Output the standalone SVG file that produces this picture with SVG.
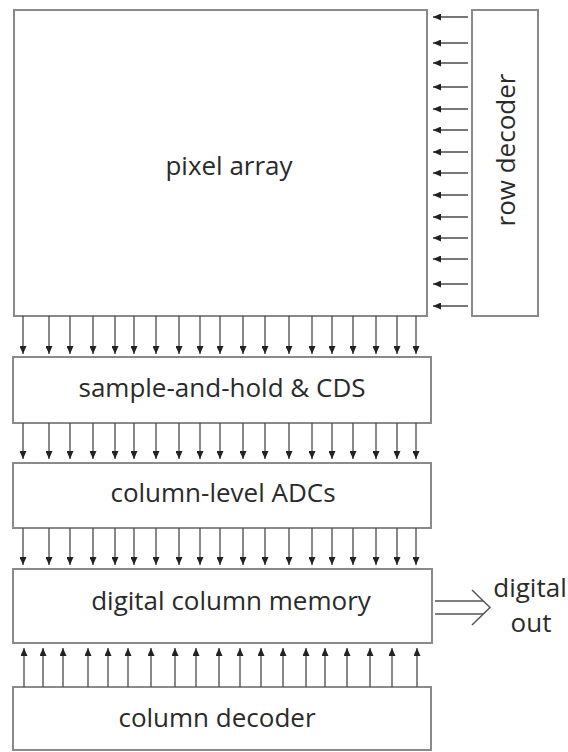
<svg xmlns="http://www.w3.org/2000/svg" width="568" height="752" viewBox="0 0 568 752">
  <style>
    .box { fill: #ffffff; stroke: #8a8a8a; stroke-width: 2; }
    .lbl { font-family: "Open Sans", "Noto Sans", "DejaVu Sans", sans-serif; font-size: 26px; fill: #2a2a2a; text-anchor: middle; }
    .wire { stroke: #4a4a4a; stroke-width: 1.3; fill: none; marker-end: url(#head); }
    .bus { stroke: #555555; stroke-width: 1.5; fill: none; }
  </style>
  <defs>
    <marker id="head" markerUnits="userSpaceOnUse" markerWidth="8" markerHeight="7" refX="8" refY="3.5" orient="auto">
      <path d="M0,0 L8,3.5 L0,7 z" fill="#222222"/>
    </marker>
  </defs>
  <rect width="568" height="752" fill="#ffffff"/>

  <g id="pixel-array">
    <rect class="box" x="14" y="10" width="413" height="306"/>
    <text class="lbl" x="229" y="175">pixel array</text>
  </g>

  <g id="row-decoder">
    <rect class="box" x="472" y="10" width="66" height="306"/>
    <text class="lbl" transform="translate(515,150) rotate(-90)">row decoder</text>
  </g>

  <g id="sample-hold-cds">
    <rect class="box" x="13" y="357" width="418" height="66"/>
    <text class="lbl" x="222" y="397">sample-and-hold &amp; CDS</text>
  </g>

  <g id="column-adcs">
    <rect class="box" x="13" y="463" width="418" height="65"/>
    <text class="lbl" x="223" y="502">column-level ADCs</text>
  </g>

  <g id="column-memory">
    <rect class="box" x="13" y="569" width="419" height="74"/>
    <text class="lbl" x="231" y="610">digital column memory</text>
  </g>

  <g id="column-decoder">
    <rect class="box" x="13" y="687" width="418" height="63"/>
    <text class="lbl" x="217" y="727">column decoder</text>
  </g>

  <g id="digital-out">
    <text class="lbl" x="530" y="597">digital</text>
    <text class="lbl" x="531" y="632">out</text>
  </g>

  <g id="connectors">
    <!-- row select lines: row decoder to pixel array -->
    <line class="wire" x1="468" y1="17" x2="433" y2="17"/>
    <line class="wire" x1="468" y1="43" x2="433" y2="43"/>
    <line class="wire" x1="468" y1="63" x2="433" y2="63"/>
    <line class="wire" x1="468" y1="87" x2="433" y2="87"/>
    <line class="wire" x1="468" y1="109" x2="433" y2="109"/>
    <line class="wire" x1="468" y1="130" x2="433" y2="130"/>
    <line class="wire" x1="468" y1="152" x2="433" y2="152"/>
    <line class="wire" x1="468" y1="173" x2="433" y2="173"/>
    <line class="wire" x1="468" y1="195" x2="433" y2="195"/>
    <line class="wire" x1="468" y1="217" x2="433" y2="217"/>
    <line class="wire" x1="468" y1="238" x2="433" y2="238"/>
    <line class="wire" x1="468" y1="259" x2="433" y2="259"/>
    <line class="wire" x1="468" y1="284" x2="433" y2="284"/>
    <line class="wire" x1="468" y1="306" x2="433" y2="306"/>

    <!-- column lines: pixel array to sample-and-hold -->
    <line class="wire" x1="23" y1="316" x2="23" y2="354"/>
    <line class="wire" x1="49" y1="316" x2="49" y2="354"/>
    <line class="wire" x1="70" y1="316" x2="70" y2="354"/>
    <line class="wire" x1="93" y1="316" x2="93" y2="354"/>
    <line class="wire" x1="115" y1="316" x2="115" y2="354"/>
    <line class="wire" x1="134" y1="316" x2="134" y2="354"/>
    <line class="wire" x1="156" y1="316" x2="156" y2="354"/>
    <line class="wire" x1="179" y1="316" x2="179" y2="354"/>
    <line class="wire" x1="200" y1="316" x2="200" y2="354"/>
    <line class="wire" x1="220" y1="316" x2="220" y2="354"/>
    <line class="wire" x1="243" y1="316" x2="243" y2="354"/>
    <line class="wire" x1="265" y1="316" x2="265" y2="354"/>
    <line class="wire" x1="289" y1="316" x2="289" y2="354"/>
    <line class="wire" x1="312" y1="316" x2="312" y2="354"/>
    <line class="wire" x1="332" y1="316" x2="332" y2="354"/>
    <line class="wire" x1="353" y1="316" x2="353" y2="354"/>
    <line class="wire" x1="376" y1="316" x2="376" y2="354"/>
    <line class="wire" x1="397" y1="316" x2="397" y2="354"/>
    <line class="wire" x1="416" y1="316" x2="416" y2="354"/>

    <!-- column lines: sample-and-hold to ADCs -->
    <line class="wire" x1="23" y1="423" x2="23" y2="459"/>
    <line class="wire" x1="49" y1="423" x2="49" y2="459"/>
    <line class="wire" x1="70" y1="423" x2="70" y2="459"/>
    <line class="wire" x1="93" y1="423" x2="93" y2="459"/>
    <line class="wire" x1="115" y1="423" x2="115" y2="459"/>
    <line class="wire" x1="134" y1="423" x2="134" y2="459"/>
    <line class="wire" x1="156" y1="423" x2="156" y2="459"/>
    <line class="wire" x1="179" y1="423" x2="179" y2="459"/>
    <line class="wire" x1="200" y1="423" x2="200" y2="459"/>
    <line class="wire" x1="220" y1="423" x2="220" y2="459"/>
    <line class="wire" x1="243" y1="423" x2="243" y2="459"/>
    <line class="wire" x1="265" y1="423" x2="265" y2="459"/>
    <line class="wire" x1="289" y1="423" x2="289" y2="459"/>
    <line class="wire" x1="312" y1="423" x2="312" y2="459"/>
    <line class="wire" x1="332" y1="423" x2="332" y2="459"/>
    <line class="wire" x1="353" y1="423" x2="353" y2="459"/>
    <line class="wire" x1="376" y1="423" x2="376" y2="459"/>
    <line class="wire" x1="397" y1="423" x2="397" y2="459"/>
    <line class="wire" x1="416" y1="423" x2="416" y2="459"/>

    <!-- column lines: ADCs to memory -->
    <line class="wire" x1="23" y1="528" x2="23" y2="565"/>
    <line class="wire" x1="49" y1="528" x2="49" y2="565"/>
    <line class="wire" x1="70" y1="528" x2="70" y2="565"/>
    <line class="wire" x1="93" y1="528" x2="93" y2="565"/>
    <line class="wire" x1="115" y1="528" x2="115" y2="565"/>
    <line class="wire" x1="134" y1="528" x2="134" y2="565"/>
    <line class="wire" x1="156" y1="528" x2="156" y2="565"/>
    <line class="wire" x1="179" y1="528" x2="179" y2="565"/>
    <line class="wire" x1="200" y1="528" x2="200" y2="565"/>
    <line class="wire" x1="220" y1="528" x2="220" y2="565"/>
    <line class="wire" x1="243" y1="528" x2="243" y2="565"/>
    <line class="wire" x1="265" y1="528" x2="265" y2="565"/>
    <line class="wire" x1="289" y1="528" x2="289" y2="565"/>
    <line class="wire" x1="312" y1="528" x2="312" y2="565"/>
    <line class="wire" x1="332" y1="528" x2="332" y2="565"/>
    <line class="wire" x1="353" y1="528" x2="353" y2="565"/>
    <line class="wire" x1="376" y1="528" x2="376" y2="565"/>
    <line class="wire" x1="397" y1="528" x2="397" y2="565"/>
    <line class="wire" x1="416" y1="528" x2="416" y2="565"/>

    <!-- column select lines: column decoder to memory -->
    <line class="wire" x1="24" y1="687" x2="24" y2="648"/>
    <line class="wire" x1="43" y1="687" x2="43" y2="648"/>
    <line class="wire" x1="63" y1="687" x2="63" y2="648"/>
    <line class="wire" x1="88" y1="687" x2="88" y2="648"/>
    <line class="wire" x1="108" y1="687" x2="108" y2="648"/>
    <line class="wire" x1="128" y1="687" x2="128" y2="648"/>
    <line class="wire" x1="151" y1="687" x2="151" y2="648"/>
    <line class="wire" x1="175" y1="687" x2="175" y2="648"/>
    <line class="wire" x1="196" y1="687" x2="196" y2="648"/>
    <line class="wire" x1="219" y1="687" x2="219" y2="648"/>
    <line class="wire" x1="240" y1="687" x2="240" y2="648"/>
    <line class="wire" x1="261" y1="687" x2="261" y2="648"/>
    <line class="wire" x1="283" y1="687" x2="283" y2="648"/>
    <line class="wire" x1="306" y1="687" x2="306" y2="648"/>
    <line class="wire" x1="325" y1="687" x2="325" y2="648"/>
    <line class="wire" x1="347" y1="687" x2="347" y2="648"/>
    <line class="wire" x1="370" y1="687" x2="370" y2="648"/>
    <line class="wire" x1="392" y1="687" x2="392" y2="648"/>
    <line class="wire" x1="417" y1="687" x2="417" y2="648"/>

    <!-- output bus -->
    <path class="bus" d="M435,601H483M435,614H483"/>
    <path class="bus" d="M472,590L490,607.5L472,625"/>
  </g>
</svg>
